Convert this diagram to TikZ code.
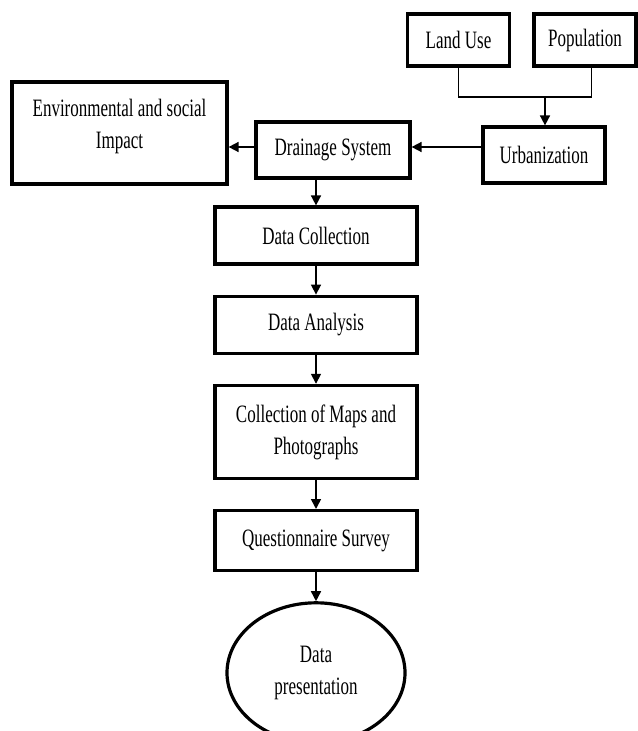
\documentclass[tikz,border=0pt]{standalone}
\usepackage{fontspec}
\setmainfont{Liberation Serif}[FakeStretch=0.68]
\usetikzlibrary{positioning,arrows.meta,shapes.geometric}

\tikzset{
  block/.style={draw, line width=2.4pt, align=center, inner sep=2pt,
    minimum width=151.5pt, minimum height=42.75pt},
  oval/.style={ellipse, draw, line width=2.4pt, align=center, inner sep=0pt,
    minimum width=133.5pt, minimum height=105pt},
  conn/.style={line width=1.2pt}
}

\begin{document}
\begin{tikzpicture}[x=0.75pt,y=-0.75pt,node distance=21.75pt,
    font=\fontsize{18.75}{24}\selectfont,
    >={Triangle[length=7.5pt,width=7.5pt]}]
    \useasboundingbox (0,0) rectangle (638,731);
        % inputs at the top
        \node[block, minimum width=76.5pt, minimum height=39pt] (land) at (458.5,40) {Land Use};
        \node[block, minimum width=76.5pt, minimum height=39pt] (pop) at (585,40) {Population};
        \node[block, minimum width=91.5pt, minimum height=42pt] (urb) at (544,155) {Urbanization};
        \node[block, minimum width=115.5pt, minimum height=42pt] (drain) at (333,150) {Drainage System};
        \node[block, minimum width=161.25pt, minimum height=76.5pt] (env) at (119.5,133) {Environmental and social\\Impact\\[-10.5pt]};
        % main column
        \node[block] (dcol) at (316,235.5) {Data Collection};
        \node[block, below=of dcol] (dana) {Data Analysis};
        \node[block, below=of dana, minimum height=69.75pt] (maps) {Collection of Maps and\\Photographs};
        \node[block, below=of maps, minimum height=45pt] (quest) {Questionnaire Survey};
        \node[oval, below=of quest] (pres) {Data\\presentation};
        \coordinate (join) at (545,97);
        \draw[conn] (land.south) |- (join) -| ([xshift=5pt]pop.south);
        \draw[conn,->] (join) -- (urb.north -| join);
        \draw[conn,->] (urb.west |- 0,147) -- (drain.east |- 0,147);
        \draw[conn,->] (drain.west |- 0,147) -- (env.east |- 0,147);
        \draw[conn,->] (drain.south -| dcol.north) -- (dcol.north);
        \draw[conn,->] (dcol) -- (dana);
        \draw[conn,->] (dana) -- (maps);
        \draw[conn,->] (maps) -- (quest);
        \draw[conn,->] (quest) -- (pres);
    \end{tikzpicture}
\end{document}
